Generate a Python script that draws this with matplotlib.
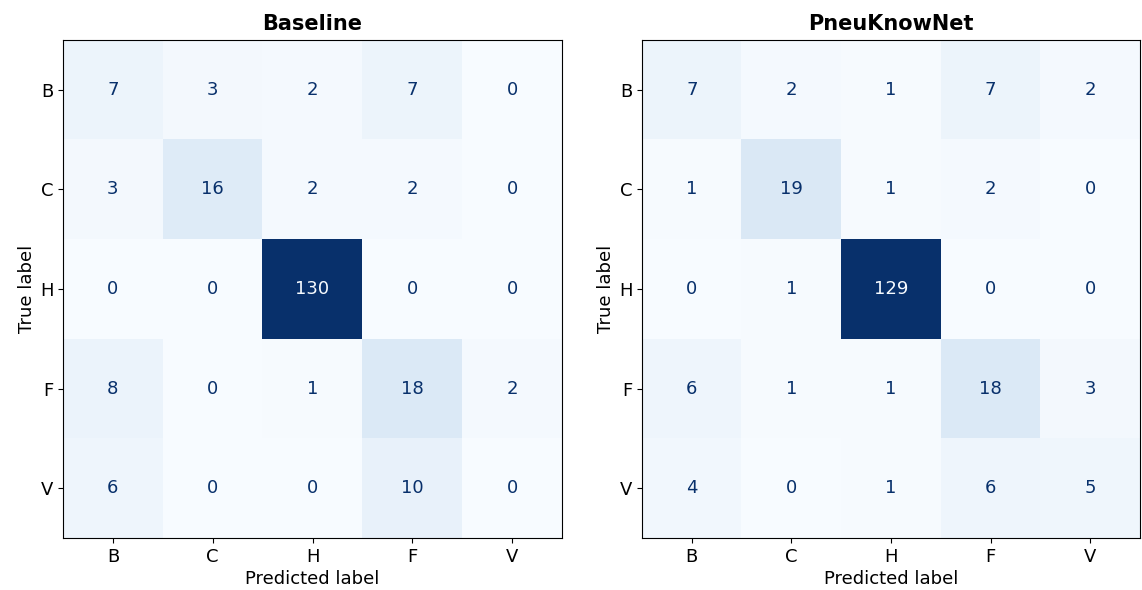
import numpy as np
import matplotlib as mpl
mpl.use("Agg")
import matplotlib.pyplot as plt

LABELS = ["B", "C", "H", "F", "V"]
TITLES = ["Baseline", "PneuKnowNet"]

baseline_cm = [
    [7, 3, 2, 7, 0],
    [3, 16, 2, 2, 0],
    [0, 0, 130, 0, 0],
    [8, 0, 1, 18, 2],
    [6, 0, 0, 10, 0],
]
pneuknownet_cm = [
    [7, 2, 1, 7, 2],
    [1, 19, 1, 2, 0],
    [0, 1, 129, 0, 0],
    [6, 1, 1, 18, 3],
    [4, 0, 1, 6, 5],
]

mpl.rcParams.update({"font.family": "DejaVu Sans", "font.size": 13})

fig = plt.figure(figsize=(11.42, 5.9), dpi=100)
positions = [
    [63 / 1142, 52 / 590, 499 / 1142, 498 / 590],
    [642 / 1142, 52 / 590, 498 / 1142, 498 / 590],
]
cmap = plt.get_cmap("Blues")

for pos, title, cm in zip(positions, TITLES, [baseline_cm, pneuknownet_cm]):
    ax = fig.add_axes(pos)
    cm = np.array(cm)
    ax.imshow(cm, cmap=cmap, interpolation="nearest", aspect="auto")
    thresh = (cm.max() + cm.min()) / 2.0
    for i in range(cm.shape[0]):
        for j in range(cm.shape[1]):
            color = cmap(0.0) if cm[i, j] > thresh else cmap(1.0)
            ax.text(j, i, f"{cm[i, j]}", ha="center", va="center",
                    color=color, fontsize=13)
    ax.set_xticks(range(len(LABELS)))
    ax.set_xticklabels(LABELS)
    ax.set_yticks(range(len(LABELS)))
    ax.set_yticklabels(LABELS)
    ax.set_xlabel("Predicted label", fontsize=13, labelpad=3)
    ax.set_ylabel("True label", fontsize=13, labelpad=3)
    ax.set_title(title, fontweight="bold", fontsize=15, pad=7)
    ax.tick_params(labelsize=13)

fig.savefig("out.png", dpi=100)
